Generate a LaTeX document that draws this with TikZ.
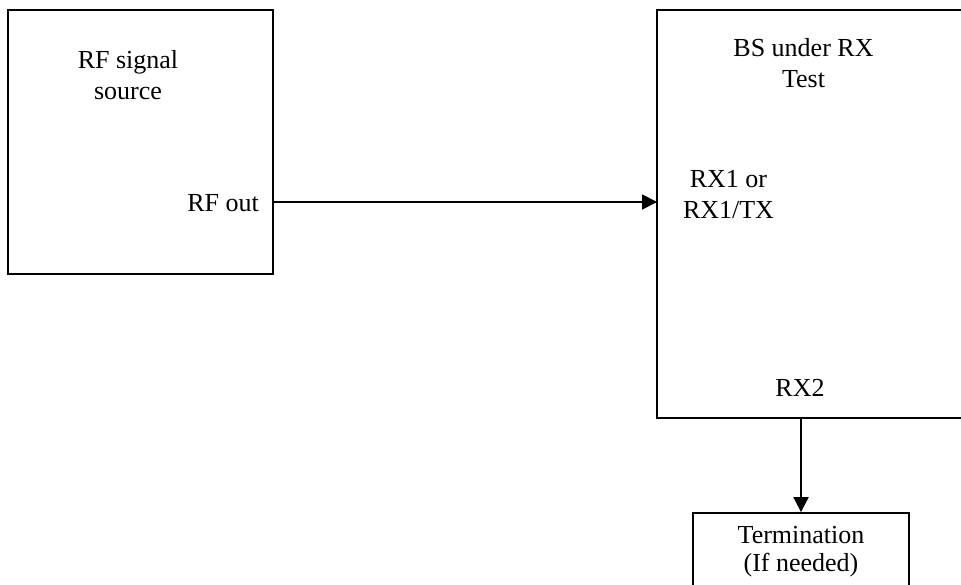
\documentclass[tikz,border=0pt]{standalone}
\usepackage{fontspec}
\setmainfont{Liberation Serif}
\usetikzlibrary{arrows.meta}
\begin{document}
\begin{tikzpicture}[x=1pt,y=-1pt,
  box/.style={draw,line width=1.8pt,inner sep=0pt},
  lbl/.style={font=\fontsize{26}{31}\selectfont,align=center,inner sep=0pt},
  conn/.style={line width=1.8pt,-{Triangle[length=15pt,width=15pt]}}]
\useasboundingbox (0,0) rectangle (961,585);
% boxes
\node[box,minimum width=265pt,minimum height=264pt] (src) at (140.5,142) {};
\node[box,minimum width=318pt,minimum height=408pt] (bs) at (816,214) {};
\node[box,minimum width=216pt,minimum height=86pt] (term) at (801,556) {};
% ports
\coordinate (srcport) at (273,202);
\coordinate (bsport) at (657,202);
\coordinate (rx2port) at (801,418);
\draw[line width=1.8pt] (273,187) -- (273,241);
% labels
\node[lbl] (srclbl) at (128,75) {RF signal\\source};
\node[lbl,anchor=base east] (rfout) at (259,212) {RF out};
\node[lbl] (bslbl) at (803.5,63.3) {BS under RX\\Test};
\node[lbl,font=\fontsize{26}{31}\selectfont] (rx1) at (728.5,194.2) {RX1 or\\RX1/TX};
\node[lbl,anchor=base] (rx2) at (800,396) {RX2};
\node[lbl,font=\fontsize{26}{28}\selectfont] (termlbl) at (801,552) {Termination\\(If needed)};
% connectors
\draw[conn] (srcport) -- (bsport);
\draw[conn] (rx2port) -- (term.north);
\end{tikzpicture}
\end{document}
